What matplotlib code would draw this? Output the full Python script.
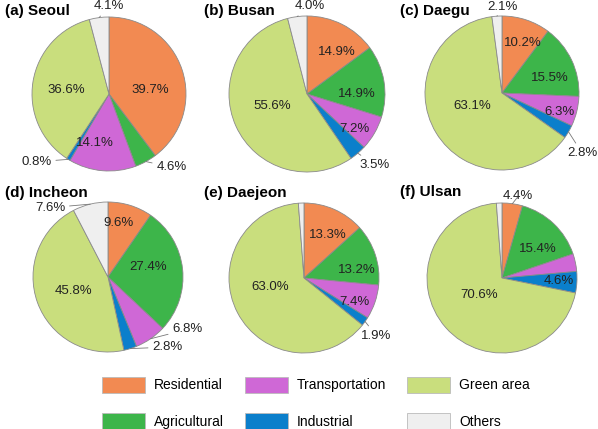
import numpy as np
import matplotlib
matplotlib.use('Agg')
import matplotlib.pyplot as plt
from matplotlib.patches import Patch

plt.rcParams['font.family'] = ['Liberation Sans', 'DejaVu Sans']

# land use categories, drawn clockwise from 12 o'clock
categories = ['Residential', 'Agricultural', 'Transportation', 'Industrial', 'Green area', 'Others']
colors = ['#F28A52', '#3DB54A', '#CF68D6', '#0B7FCB', '#C9DE7D', '#EFEFEF']

titles = ['(a) Seoul', '(b) Busan', '(c) Daegu', '(d) Incheon', '(e) Daejeon', '(f) Ulsan']

seoul = [39.7, 4.6, 14.1, 0.8, 36.6, 4.1]
busan = [14.9, 14.9, 7.2, 3.5, 55.6, 4.0]
daegu = [10.2, 15.5, 6.3, 2.8, 63.1, 2.1]
incheon = [9.6, 27.4, 6.8, 2.8, 45.8, 7.6]
daejeon = [13.3, 13.2, 7.4, 1.9, 63.0, 1.2]
ulsan = [4.4, 15.4, 3.8, 4.6, 70.6, 1.2]
cities = [seoul, busan, daegu, incheon, daejeon, ulsan]

# which slices get a printed label
shown = [
    [1, 1, 1, 1, 1, 1],
    [1, 1, 1, 1, 1, 1],
    [1, 1, 1, 1, 1, 1],
    [1, 1, 1, 1, 1, 1],
    [1, 1, 1, 1, 1, 0],
    [1, 1, 0, 1, 1, 0],
]

# label placement (pie radius units), layout only
label_pos = [
    [(0.53, 0.05), (0.81, -0.95), (-0.18, -0.64), (-0.94, -0.88), (-0.55, 0.05), (0.0, 1.14)],
    [(0.39, 0.55), (0.65, 0.0), (0.62, -0.45), (0.88, -0.92), (-0.45, -0.16), (0.04, 1.14)],
    [(0.27, 0.65), (0.62, 0.19), (0.75, -0.25), (1.04, -0.78), (-0.39, -0.17), (0.01, 1.12)],
    [(0.13, 0.70), (0.52, 0.13), (1.03, -0.68), (0.77, -0.91), (-0.45, -0.18), (-0.75, 0.90)],
    [(0.31, 0.56), (0.68, 0.10), (0.65, -0.31), (0.94, -0.75), (-0.44, -0.12), None],
    [(0.21, 1.06), (0.47, 0.38), None, (0.74, -0.04), (-0.30, -0.22), None],
]

# pie centres in pixels (x, y from top) and radii
centres = [(109, 94), (307, 94), (502, 93), (108, 277), (304, 278), (502, 278)]
radii = [77, 78, 77, 75, 75, 75]
title_xy = [(5, 11), (204, 11), (400, 11), (5, 193), (204, 193), (400, 192)]

W, H = 598, 429
fig = plt.figure(figsize=(W / 100, H / 100), dpi=100)
unit = 77.0
half = 1.15 * unit

for i, vals in enumerate(cities):
    cx, cy = centres[i]
    ax = fig.add_axes([(cx - half) / W, (H - cy - half) / H, 2 * half / W, 2 * half / H])
    r = radii[i] / unit
    wedges, _ = ax.pie(vals, colors=colors, startangle=90, counterclock=False,
                       radius=r, wedgeprops=dict(edgecolor='#8A8A8A', linewidth=0.6))
    ax.set_xlim(-1.15, 1.15)
    ax.set_ylim(-1.15, 1.15)
    ax.set_aspect('equal')
    ax.axis('off')

    for j, w in enumerate(wedges):
        if not shown[i][j]:
            continue
        lx, ly = label_pos[i][j]
        txt = f'{vals[j]:.1f}%'
        if np.hypot(lx, ly) > 1.0:
            ang = np.deg2rad((w.theta1 + w.theta2) / 2)
            ex, ey = r * np.cos(ang), r * np.sin(ang)
            ax.annotate(txt, xy=(ex, ey), xytext=(lx, ly), ha='center', va='center',
                        fontsize=9.5, color='#222222',
                        arrowprops=dict(arrowstyle='-', color='#777777', lw=0.6,
                                        shrinkA=1, shrinkB=0))
        else:
            ax.text(lx, ly, txt, ha='center', va='center', fontsize=9.5, color='#222222')

for t, (tx, ty) in zip(titles, title_xy):
    fig.text(tx / W, 1 - ty / H, t, fontsize=11, fontweight='bold', ha='left', va='center')

handles = [Patch(facecolor=c, edgecolor='#BBBBBB', linewidth=0.6) for c in colors]
fig.legend(handles, categories, loc='center', bbox_to_anchor=(316 / W, 1 - 403 / H),
           ncol=3, frameon=False, fontsize=10, handlelength=3.1, handleheight=1.35,
           handletextpad=0.65, columnspacing=1.5, labelspacing=1.5)

fig.savefig('out.png', dpi=100)
